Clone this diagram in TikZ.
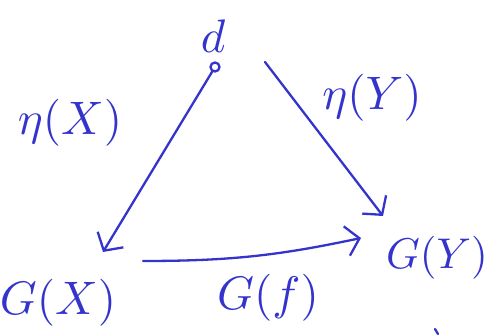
\documentclass[tikz,border=0pt]{standalone}
\usetikzlibrary{arrows.meta}
\definecolor{ink}{RGB}{52,52,205}
\newcommand{\bigtxt}[1]{\scalebox{4.7}{#1}}
\begin{document}
\begin{tikzpicture}[x=1pt,y=-1pt, line cap=round, line join=round,
  lbl/.style={inner sep=0pt, text=ink},
  conn/.style={draw=ink, line width=2.3pt, -{Straight Barb[length=13pt,width=30pt,line width=2.3pt]}}]
\useasboundingbox (0,0) rectangle (492,336);
\node[lbl] (d) at (213,36) {\bigtxt{$d$}};
\node[circle, draw=ink, line width=2.3pt, minimum size=9pt, inner sep=0pt] (o) at (215,67) {};
\coordinate (tl) at (103,252);
\coordinate (rs) at (265,62);
\coordinate (tr) at (383,216);
\coordinate (bs) at (143,261);
\coordinate (be) at (361,238);
\draw[conn] (o) -- (tl);
\draw[conn] (rs) -- (tr);
\draw[conn] (bs) to[bend right=6] (be);
\node[lbl] (etax) at (70,123) {\bigtxt{$\eta(X)$}};
\node[lbl] (etay) at (372,98) {\bigtxt{$\eta(Y)$}};
\node[lbl] (gx) at (58,303) {\bigtxt{$G(X)$}};
\node[lbl] (gf) at (268,298) {\bigtxt{$G(f)$}};
\node[lbl] (gy) at (437,258) {\scalebox{4.3}{$G(Y)$}};
\draw[ink, line width=2.3pt] (435,329) -- (438,334);
\end{tikzpicture}
\end{document}
